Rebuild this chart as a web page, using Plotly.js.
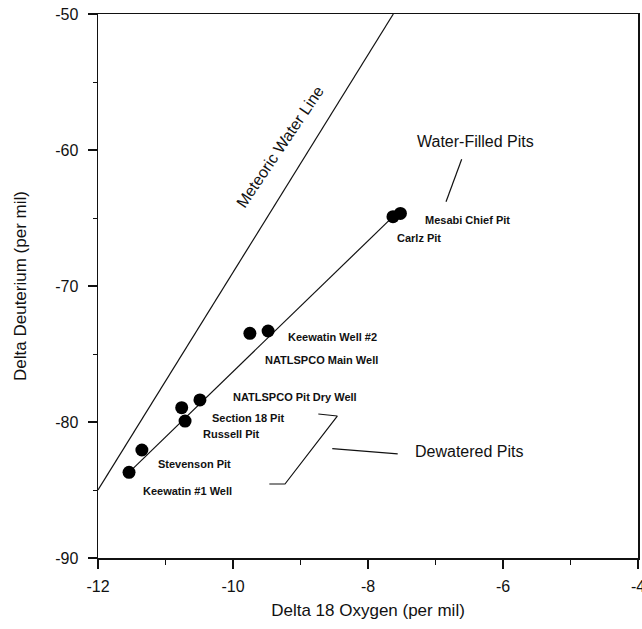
<!DOCTYPE html>
<html>
<head>
<meta charset="utf-8">
<script src="https://cdn.plot.ly/plotly-3.0.1.min.js"></script>
<style>html,body{margin:0;padding:0;background:#fff;}#chart{width:642px;height:629px;}</style>
</head>
<body>
<div id="chart"></div>
<script>
// Sample names and isotope values
var sampleNames = ["Mesabi Chief Pit", "Carlz Pit", "Keewatin Well #2", "NATLSPCO Main Well",
  "NATLSPCO Pit Dry Well", "Section 18 Pit", "Russell Pit", "Stevenson Pit", "Keewatin #1 Well"];
var delta18O = [-7.52, -7.63, -9.48, -9.75, -10.49, -10.76, -10.71, -11.35, -11.54];
var deltaD   = [-64.66, -64.9, -73.31, -73.48, -78.38, -78.95, -79.93, -82.06, -83.70];

// Meteoric water line (endpoints)
var mwlX = [-12, -7.625];
var mwlY = [-85, -50];

// Fitted line through samples
var fitX = [-11.54, -7.63];
var fitY = [-83.70, -64.9];

// Tick values and labels (hyphen minus as in the original)
var xTickVals = [-12, -10, -8, -6, -4];
var xTickText = ["-12", "-10", "-8", "-6", "-4"];
var yTickVals = [-90, -80, -70, -60, -50];
var yTickText = ["-90", "-80", "-70", "-60", "-50"];

// Label positions (data coords)
var labelText = ["Mesabi Chief Pit", "Carlz Pit", "Keewatin Well #2", "NATLSPCO Main Well",
  "NATLSPCO Pit Dry Well", "Section 18 Pit", "Russell Pit", "Stevenson Pit", "Keewatin #1 Well"];
var labelX = [-7.18, -7.60, -9.215, -9.551, -10.034, -10.341, -10.479, -11.141, -11.367];
var labelY = [-65.15, -66.49, -73.73, -75.44, -78.14, -79.68, -80.88, -83.11, -85.05];

var groupText = ["Water-Filled Pits", "Dewatered Pits"];
var groupX = [-7.304, -7.338];
var groupY = [-59.39, -82.18];

// Callout lines
var slashX = [-6.612, -6.844];
var slashY = [-60.68, -63.80];
var bracketX = [-8.736, -8.455, -9.230, -9.462];
var bracketY = [-79.41, -79.56, -84.56, -84.56];
var pointerX = [-8.529, -7.560];
var pointerY = [-81.96, -82.35];

var FONT = "Liberation Sans, Arial, Helvetica, sans-serif";

var traces = [
  {x: mwlX, y: mwlY, mode: "lines", line: {color: "#111", width: 1.2}, hoverinfo: "skip"},
  {x: fitX, y: fitY, mode: "lines", line: {color: "#111", width: 1.2}, hoverinfo: "skip"},
  {x: slashX, y: slashY, mode: "lines", line: {color: "#111", width: 1.2}, hoverinfo: "skip"},
  {x: bracketX, y: bracketY, mode: "lines", line: {color: "#111", width: 1.2}, hoverinfo: "skip"},
  {x: pointerX, y: pointerY, mode: "lines", line: {color: "#111", width: 1.2}, hoverinfo: "skip"},
  {x: delta18O, y: deltaD, text: sampleNames, mode: "markers",
   marker: {color: "#000", size: 13}}
];

var annotations = [];
for (var i = 0; i < labelText.length; i++) {
  annotations.push({x: labelX[i], y: labelY[i], xref: "x", yref: "y", text: labelText[i],
    showarrow: false, xanchor: "left", yanchor: "middle",
    font: {family: FONT, size: 11, color: "#111", weight: "bold"}});
}
for (var j = 0; j < groupText.length; j++) {
  annotations.push({x: groupX[j], y: groupY[j], xref: "x", yref: "y", text: groupText[j],
    showarrow: false, xanchor: "left", yanchor: "middle",
    font: {family: FONT, size: 16, color: "#111"}});
}
annotations.push({x: -9.304, y: -59.71, xref: "x", yref: "y", text: "Meteoric Water Line",
  showarrow: false, textangle: -56, xanchor: "center", yanchor: "middle",
  font: {family: FONT, size: 16, color: "#111"}});

var layout = {
  width: 642, height: 629,
  margin: {l: 98, r: 4, t: 14, b: 71},
  paper_bgcolor: "#fff", plot_bgcolor: "#fff",
  showlegend: false,
  font: {family: FONT, size: 14, color: "#111"},
  xaxis: {
    range: [-12, -4], tickmode: "array", tickvals: xTickVals, ticktext: xTickText,
    showgrid: false, zeroline: false, automargin: false,
    showline: true, linecolor: "#111", linewidth: 1.5, mirror: true,
    ticks: "outside", ticklen: 9, tickcolor: "#111", tickwidth: 1.2,
    minor: {dtick: 1, tick0: -12, ticks: "outside", ticklen: 5, tickcolor: "#111", tickwidth: 1},
    ticklabeloverflow: "allow", ticklabelstandoff: 4,
    tickfont: {family: FONT, size: 16, color: "#111"},
    title: {text: "Delta 18 Oxygen (per mil)", font: {family: FONT, size: 17, color: "#111"}, standoff: 10}
  },
  yaxis: {
    range: [-90, -50], tickmode: "array", tickvals: yTickVals, ticktext: yTickText,
    showgrid: false, zeroline: false, automargin: false,
    showline: true, linecolor: "#111", linewidth: 1.5, mirror: true,
    ticks: "outside", ticklen: 9, tickcolor: "#111", tickwidth: 1.2,
    minor: {dtick: 5, tick0: -90, ticks: "outside", ticklen: 4, tickcolor: "#111", tickwidth: 1},
    ticklabelstandoff: 6,
    tickfont: {family: FONT, size: 16, color: "#111"},
    title: {text: "Delta Deuterium (per mil)", font: {family: FONT, size: 17, color: "#111"}, standoff: 24}
  },
  annotations: annotations
};

Plotly.newPlot("chart", traces, layout, {displayModeBar: false, staticPlot: true});
</script>
</body>
</html>
